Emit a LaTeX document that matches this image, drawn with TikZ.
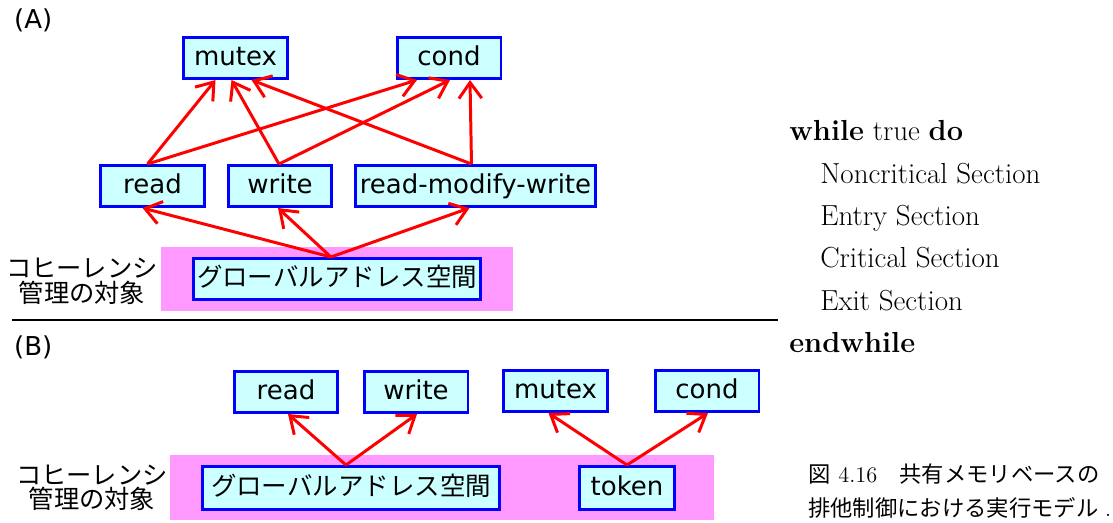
\documentclass[tikz,border=0pt]{standalone}
\usepackage{fontspec}
\newfontfamily\dejavu{DejaVu Sans}
\newfontfamily\jpfont{Noto Sans CJK JP}
\usetikzlibrary{arrows.meta,calc}
\definecolor{boxfill}{RGB}{204,255,255}
\definecolor{areapink}{RGB}{255,153,255}
\tikzset{
  objbox/.style={draw=blue, fill=boxfill, line width=1.7pt, inner sep=0pt,
    minimum width=2.08cm, minimum height=0.82cm, text height=12pt, text depth=3pt,
    font=\dejavu\fontsize{14.8}{17}\selectfont},
  jpbox/.style={objbox, font=\jpfont\fontsize{14.5}{17}\selectfont},
  link/.style={red, line width=1.7pt, -{Straight Barb[length=9pt,width=13pt]}},
  cohtext/.style={anchor=base, inner sep=0pt, font=\jpfont\fontsize{14.4}{17}\selectfont},
  algo/.style={anchor=base west, inner sep=0pt, font=\fontsize{16.5}{19}\selectfont},
}
\begin{document}
\begin{tikzpicture}[x=0.02cm, y=-0.02cm]
  \useasboundingbox (0,0) rectangle (1113,522);

  % (A): every access goes through the coherence layer
  \node[anchor=west, font=\dejavu\fontsize{14.8}{17}\selectfont] (labA) at (8,20) {(A)};
  \fill[areapink] (161,247) rectangle (513,311);
  \node[objbox] (mutexA) at (235.5,58) {mutex};
  \node[objbox] (condA) at (449,58) {cond};
  \node[objbox] (readA) at (152.5,186) {read};
  \node[objbox] (writeA) at (280,186) {write};
  \node[objbox, minimum width=4.8cm] (rmwA) at (475.5,186) {read-modify-write};
  \node[jpbox, minimum width=5.74cm] (gasA) at (337,279) {グローバルアドレス空間};
  \node[cohtext] (cohA1) at (82,277) {コヒーレンシ};
  \node[cohtext] (cohA2) at (82,302) {管理の対象};

  \draw[link] ($(readA.north)+(-5,0)$) -- ($(mutexA.south)+(-20,0)$);
  \draw[link] ($(readA.north)+(-5,0)$) -- ($(condA.south)+(-32,0)$);
  \draw[link] ($(writeA.north)+(-1,0)$) -- ($(mutexA.south)+(-4,0)$);
  \draw[link] ($(writeA.north)+(-1,0)$) -- ($(condA.south)+(1,0)$);
  \draw[link] ($(rmwA.north)+(-4,0)$) -- ($(mutexA.south)+(16,0)$);
  \draw[link] ($(rmwA.north)+(-4,0)$) -- ($(condA.south)+(21,0)$);
  \draw[link] ($(gasA.north)+(-6,0)$) -- ($(readA.south)+(-10,0)$);
  \draw[link] ($(gasA.north)+(-6,0)$) -- ($(writeA.south)+(-2,0)$);
  \draw[link] ($(gasA.north)+(-6,0)$) -- ($(rmwA.south)+(-6,0)$);

  % separator
  \draw[line width=1.2pt] (12,320) -- (778,320);

  % (B): synchronisation only through the token
  \node[anchor=west, font=\dejavu\fontsize{14.8}{17}\selectfont] (labB) at (8,347) {(B)};
  \fill[areapink] (170,455) rectangle (714,520);
  \node[objbox] (readB) at (286,392) {read};
  \node[objbox] (writeB) at (416,392) {write};
  \node[objbox] (mutexB) at (555.5,391) {mutex};
  \node[objbox] (condB) at (707,391) {cond};
  \node[jpbox, minimum width=5.94cm, minimum height=0.86cm] (gasB) at (351,488) {グローバルアドレス空間};
  \node[objbox, minimum width=1.9cm, minimum height=0.86cm] (token) at (627,488) {token};
  \node[cohtext] (cohB1) at (92,484) {コヒーレンシ};
  \node[cohtext] (cohB2) at (92,508) {管理の対象};

  \draw[link] ($(gasB.north)+(-5,0)$) -- ($(readB.south)+(2,0)$);
  \draw[link] ($(gasB.north)+(-5,0)$) -- ($(writeB.south)+(1,0)$);
  \draw[link] (token.north) -- ($(mutexB.south)+(-7,0)$);
  \draw[link] (token.north) -- ($(condB.south)+(1,0)$);

  % algorithm
  \node[algo] (l1) at (789,140.5) {\textbf{while} true \textbf{do}};
  \node[algo] (l2) at (820,183) {Noncritical Section};
  \node[algo] (l3) at (820,225.3) {Entry Section};
  \node[algo] (l4) at (820,267.7) {Critical Section};
  \node[algo] (l5) at (820,310) {Exit Section};
  \node[algo] (l6) at (789,352.5) {\textbf{endwhile}};

  % caption
  \node[anchor=base west, inner sep=0pt, font=\jpfont\fontsize{12.7}{15}\selectfont] (cap1) at (808,482)
    {図\hspace{0.35em}{\rmfamily 4.16}　共有メモリベースの};
  \node[anchor=base west, inner sep=0pt, font=\jpfont\fontsize{12.7}{15}\selectfont] (cap2) at (808,516)
    {排他制御における実行モデル{\rmfamily\hspace{0.3em}.}};
\end{tikzpicture}
\end{document}
